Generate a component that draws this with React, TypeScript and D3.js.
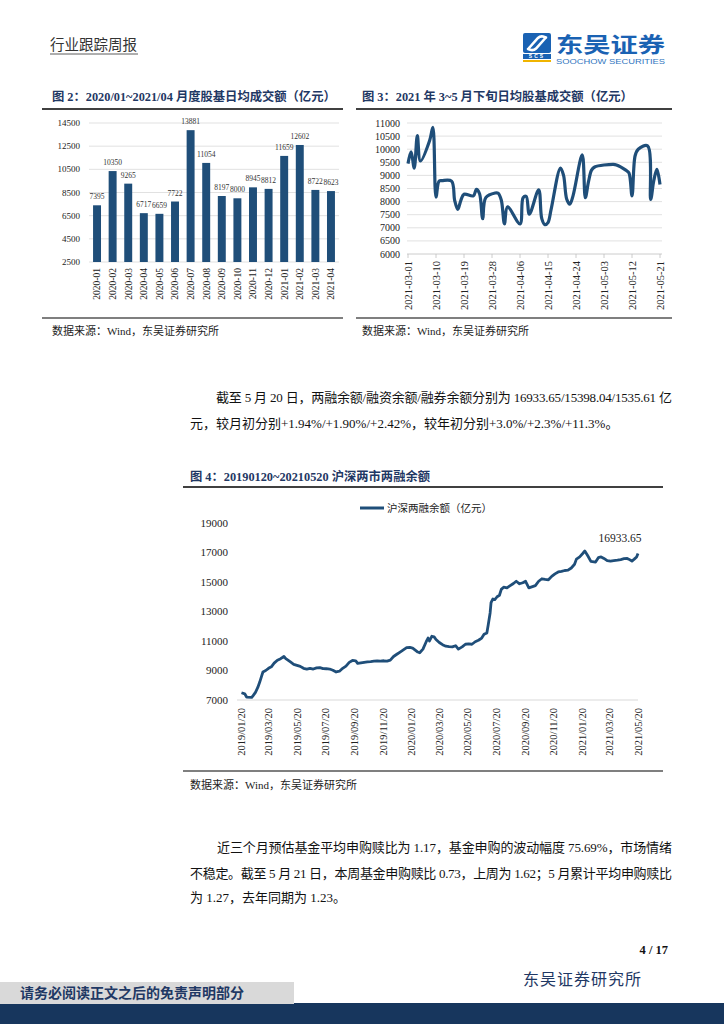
import React from 'react';
import * as d3 from 'd3';

// ---------- Figure 2 data ----------
const monthCats = ['2020-01','2020-02','2020-03','2020-04','2020-05','2020-06','2020-07','2020-08','2020-09','2020-10','2020-11','2020-12','2021-01','2021-02','2021-03','2021-04'];
const monthVals = [7395,10350,9265,6717,6659,7722,13881,11054,8197,8000,8945,8812,11659,12602,8722,8623];
const fig2Ticks = [2500,4500,6500,8500,10500,12500,14500];

// ---------- Figure 3 data ----------
const dailyDates = ['2021-03-01','2021-03-02','2021-03-03','2021-03-04','2021-03-05','2021-03-08','2021-03-09','2021-03-10','2021-03-11','2021-03-12','2021-03-15','2021-03-16','2021-03-17','2021-03-18','2021-03-19','2021-03-22','2021-03-23','2021-03-24','2021-03-25','2021-03-26','2021-03-29','2021-03-30','2021-03-31','2021-04-01','2021-04-02','2021-04-06','2021-04-07','2021-04-08','2021-04-09','2021-04-12','2021-04-13','2021-04-14','2021-04-15','2021-04-16','2021-04-19','2021-04-20','2021-04-21','2021-04-22','2021-04-23','2021-04-26','2021-04-27','2021-04-28','2021-04-29','2021-04-30','2021-05-06','2021-05-07','2021-05-10','2021-05-11','2021-05-12','2021-05-13','2021-05-14','2021-05-17','2021-05-18','2021-05-19','2021-05-20','2021-05-21'];
const dailyVals = [9450,9900,9280,10520,9550,10350,10830,8170,8780,8800,8780,8050,7700,8050,8280,8220,8470,8300,7350,8150,8330,8320,8050,7150,7800,7150,8150,8200,7520,8450,7350,7120,7200,7700,9280,9000,8100,7900,8200,9780,8150,8750,9200,9320,9420,9400,9200,9100,8220,9750,10000,10130,8080,8800,9230,8650];
const fig3Ticks = [6000,6500,7000,7500,8000,8500,9000,9500,10000,10500,11000];
const fig3DateLabels = ['2021-03-01','2021-03-10','2021-03-19','2021-03-28','2021-04-06','2021-04-15','2021-04-24','2021-05-03','2021-05-12','2021-05-21'];

// ---------- Figure 4 data ----------
const marginDates = ['2019-01-21','2019-01-28','2019-02-01','2019-02-12','2019-02-15','2019-02-20','2019-02-25','2019-03-01','2019-03-05','2019-03-08','2019-03-14','2019-03-20','2019-03-26','2019-04-01','2019-04-08','2019-04-15','2019-04-22','2019-04-26','2019-05-06','2019-05-13','2019-05-20','2019-05-27','2019-06-03','2019-06-10','2019-06-17','2019-06-24','2019-07-01','2019-07-08','2019-07-15','2019-07-22','2019-07-29','2019-08-05','2019-08-12','2019-08-19','2019-08-26','2019-09-02','2019-09-09','2019-09-16','2019-09-23','2019-09-27','2019-10-11','2019-10-18','2019-10-25','2019-11-01','2019-11-08','2019-11-15','2019-11-22','2019-11-29','2019-12-06','2019-12-13','2019-12-20','2019-12-27','2020-01-03','2020-01-10','2020-01-17','2020-01-23','2020-02-03','2020-02-07','2020-02-14','2020-02-21','2020-02-25','2020-02-28','2020-03-04','2020-03-09','2020-03-13','2020-03-20','2020-03-27','2020-04-03','2020-04-10','2020-04-17','2020-04-24','2020-04-30','2020-05-08','2020-05-15','2020-05-22','2020-05-29','2020-06-05','2020-06-12','2020-06-19','2020-06-24','2020-06-30','2020-07-03','2020-07-07','2020-07-09','2020-07-13','2020-07-17','2020-07-22','2020-07-27','2020-07-31','2020-08-05','2020-08-12','2020-08-19','2020-08-26','2020-09-01','2020-09-08','2020-09-15','2020-09-21','2020-09-28','2020-10-12','2020-10-19','2020-10-26','2020-11-02','2020-11-09','2020-11-16','2020-11-23','2020-11-30','2020-12-07','2020-12-14','2020-12-21','2020-12-28','2021-01-04','2021-01-08','2021-01-15','2021-01-22','2021-01-26','2021-02-01','2021-02-08','2021-02-18','2021-02-24','2021-03-02','2021-03-08','2021-03-15','2021-03-22','2021-03-29','2021-04-06','2021-04-13','2021-04-20','2021-04-27','2021-04-30','2021-05-07','2021-05-12','2021-05-17','2021-05-20'];
const marginVals = [7490,7420,7200,7180,7300,7520,7850,8200,8600,8900,9000,9150,9250,9500,9700,9800,9950,9800,9580,9420,9350,9280,9150,9100,9150,9100,9180,9200,9130,9120,9100,9020,8900,8950,9150,9300,9550,9680,9650,9480,9550,9580,9600,9630,9650,9640,9660,9630,9700,9950,10100,10250,10400,10550,10560,10520,10250,10200,10450,10950,11200,11000,11320,11280,11100,10900,10750,10650,10620,10600,10680,10450,10600,10780,10800,10780,10950,11050,11200,11450,11550,12100,12900,13600,13850,13800,14000,14100,14500,14650,14600,14750,14900,15050,14880,14950,15050,14600,14750,15050,15220,15180,15150,15380,15550,15680,15720,15780,15800,15950,16200,16550,16700,16950,17100,16800,16400,16350,16650,16700,16600,16450,16420,16450,16480,16520,16580,16600,16550,16420,16550,16700,16933.65];
const fig4Ticks = [7000,9000,11000,13000,15000,17000,19000];
const fig4DateLabels = ['2019/01/20','2019/03/20','2019/05/20','2019/07/20','2019/09/20','2019/11/20','2020/01/20','2020/03/20','2020/05/20','2020/07/20','2020/09/20','2020/11/20','2021/01/20','2021/03/20','2021/05/20'];
const fig4LastLabel = '16933.65';

const SERIF = '"Liberation Serif","Times New Roman","Noto Sans CJK SC",serif';
const NAVY = '#1F3864';
const BAR = '#1F4E79';
const GRID = '#D9D9D9';

function Fig2() {
  const x = d3.scaleBand<string>().domain(monthCats).range([89, 339]).paddingInner(0.49).paddingOuter(0.26);
  const y = d3.scaleLinear().domain([2500, 14500]).range([262, 123]);
  return (
    <g fontFamily={SERIF}>
      {fig2Ticks.map(t => (
        <g key={t}>
          <line x1={89} x2={339} y1={y(t)} y2={y(t)} stroke={GRID} strokeWidth={0.8} />
          <text x={80} y={y(t)} dy="0.35em" textAnchor="end" fontSize={9} fill="#222">{t}</text>
        </g>
      ))}
      {monthCats.map((c, i) => (
        <g key={c}>
          <rect x={x(c)} y={y(monthVals[i])} width={x.bandwidth()} height={y(2500) - y(monthVals[i])} fill={BAR} />
          <text x={(x(c) as number) + x.bandwidth() / 2} y={y(monthVals[i]) - 6} textAnchor="middle" fontSize={7.5} fill="#333">{monthVals[i]}</text>
          <text transform={`translate(${(x(c) as number) + x.bandwidth() / 2},268) rotate(-90)`} dy="0.35em" textAnchor="end" fontSize={9.5} fill="#222">{c}</text>
        </g>
      ))}
    </g>
  );
}

function Fig3() {
  const parse = d3.timeParse('%Y-%m-%d');
  const x = d3.scaleTime().domain([parse('2021-03-01') as Date, parse('2021-05-21') as Date]).range([408, 660]);
  const y = d3.scaleLinear().domain([6000, 11000]).range([254, 123]);
  const pts: [number, number][] = dailyDates.map((d, i) => [x(parse(d) as Date), y(dailyVals[i])]);
  const line = d3.line().curve(d3.curveCatmullRom.alpha(0.5))(pts) as string;
  return (
    <g fontFamily={SERIF}>
      {fig3Ticks.map(t => (
        <g key={t}>
          <line x1={407} x2={662} y1={y(t)} y2={y(t)} stroke={t === 6000 ? '#BFBFBF' : GRID} strokeWidth={0.8} />
          <text x={400} y={y(t)} dy="0.35em" textAnchor="end" fontSize={10} fill="#222">{t}</text>
        </g>
      ))}
      {fig3DateLabels.map(d => {
        const xx = x(parse(d) as Date);
        return (
          <g key={d}>
            <line x1={xx} x2={xx} y1={254} y2={258} stroke="#BFBFBF" strokeWidth={0.8} />
            <text transform={`translate(${xx},261) rotate(-90)`} dy="0.35em" textAnchor="end" fontSize={10.5} fill="#222">{d}</text>
          </g>
        );
      })}
      <path d={line} fill="none" stroke={BAR} strokeWidth={3.2} strokeLinejoin="round" />
    </g>
  );
}

function Fig4() {
  const parse = d3.timeParse('%Y-%m-%d');
  const parse2 = d3.timeParse('%Y/%m/%d');
  const x = d3.scaleTime().domain([parse2('2019/01/20') as Date, parse2('2021/05/20') as Date]).range([241, 638]);
  const y = d3.scaleLinear().domain([7000, 19000]).range([700, 523]);
  const pts: [number, number][] = marginDates.map((d, i) => [x(parse(d) as Date), y(marginVals[i])]);
  const line = d3.line()(pts) as string;
  const last = pts[pts.length - 1];
  return (
    <g fontFamily={SERIF}>
      <line x1={360} x2={384} y1={508} y2={508} stroke={BAR} strokeWidth={3} />
      <text x={387} y={508} dy="0.35em" fontSize={10.5} fill="#222">沪深两融余额（亿元）</text>
      {fig4Ticks.map(t => (
        <text key={t} x={228} y={y(t)} dy="0.35em" textAnchor="end" fontSize={11} fill="#222">{t}</text>
      ))}
      <line x1={237} x2={638} y1={700} y2={700} stroke={GRID} strokeWidth={1} />
      {fig4DateLabels.map(d => {
        const xx = x(parse2(d) as Date);
        return (
          <text key={d} transform={`translate(${xx},708) rotate(-90)`} dy="0.35em" textAnchor="end" fontSize={10.5} fill="#222">{d}</text>
        );
      })}
      <path d={line} fill="none" stroke={BAR} strokeWidth={2.8} strokeLinejoin="round" />
      <text x={last[0] - 18} y={last[1] - 11} textAnchor="middle" fontSize={11.5} fill="#222">{fig4LastLabel}</text>
    </g>
  );
}

export default function App() {
  return (
    <svg width={724} height={1024} style={{ position: 'absolute', left: 0, top: 0, display: 'block', background: '#fff' }} fontFamily={SERIF}>
      {/* Header */}
      <text x={50} y={50} fontSize={14.5} fill="#333">行业跟踪周报</text>
      <line x1={50} x2={138} y1={54} y2={54} stroke="#333" strokeWidth={0.8} />
      <g>
        <rect x={523} y={33} width={28} height={20} rx={2} fill="#1A62B3" />
        <path d="M529,48 L538,38 Q540,36 543,36.5 L546,37.5" fill="none" stroke="#fff" strokeWidth={2.6} strokeLinecap="round" />
        <path d="M545,38.5 L536,48.5 Q534,50.5 531,50 L528,49" fill="none" stroke="#fff" strokeWidth={2.6} strokeLinecap="round" />
        <rect x={523} y={54} width={28} height={5} fill="#1A62B3" />
        <text x={537} y={58.3} textAnchor="middle" fontSize={5} fontWeight="bold" fill="#fff" fontFamily="Arial, sans-serif" letterSpacing={2}>SCS</text>
        <rect x={523} y={60} width={28} height={2} fill="#F0B400" />
        <text x={556} y={52} fontSize={21} fontWeight="bold" fill="#1A62B3" fontFamily='"Noto Sans CJK SC",sans-serif' textLength={109} lengthAdjust="spacingAndGlyphs">东吴证券</text>
        <text x={556} y={64} fontSize={8} fill="#2F75C0" fontFamily='"Liberation Sans",Arial,sans-serif' textLength={109} lengthAdjust="spacingAndGlyphs">SOOCHOW SECURITIES</text>
      </g>

      {/* Figure 2 */}
      <text x={52} y={101} fontSize={12.3} fontWeight="bold" fill={NAVY}>图 2：2020/01~2021/04 月度股基日均成交额（亿元）</text>
      <line x1={42} x2={343} y1={109} y2={109} stroke="#000" strokeWidth={1.5} />
      <Fig2 />
      <line x1={42} x2={343} y1={318} y2={318} stroke="#000" strokeWidth={1.2} />
      <text x={52} y={335} fontSize={11} fill="#222">数据来源：Wind，东吴证券研究所</text>

      {/* Figure 3 */}
      <text x={362} y={101} fontSize={12.3} fontWeight="bold" fill={NAVY}>图 3：2021 年 3~5 月下旬日均股基成交额（亿元）</text>
      <line x1={356} x2={672} y1={109} y2={109} stroke="#000" strokeWidth={1.5} />
      <Fig3 />
      <line x1={356} x2={672} y1={318} y2={318} stroke="#000" strokeWidth={1.2} />
      <text x={362} y={335} fontSize={11} fill="#222">数据来源：Wind，东吴证券研究所</text>

      {/* Paragraph 1 */}
      <text x={216} y={402} fontSize={13} fill="#111" textLength={456} lengthAdjust="spacing">截至 5 月 20 日，两融余额/融资余额/融券余额分别为 16933.65/15398.04/1535.61 亿</text>
      <text x={190} y={428} fontSize={13} fill="#111">元，较月初分别+1.94%/+1.90%/+2.42%，较年初分别+3.0%/+2.3%/+11.3%。</text>

      {/* Figure 4 */}
      <text x={190} y={481} fontSize={12.3} fontWeight="bold" fill={NAVY}>图 4：20190120~20210520 沪深两市两融余额</text>
      <line x1={183} x2={663} y1={487} y2={487} stroke="#000" strokeWidth={1.5} />
      <Fig4 />
      <line x1={183} x2={663} y1={771} y2={771} stroke="#000" strokeWidth={1.2} />
      <text x={190} y={789} fontSize={11} fill="#222">数据来源：Wind，东吴证券研究所</text>

      {/* Paragraph 2 */}
      <text x={217} y={852} fontSize={13} fill="#111" textLength={455} lengthAdjust="spacing">近三个月预估基金平均申购赎比为 1.17，基金申购的波动幅度 75.69%，市场情绪</text>
      <text x={190} y={878} fontSize={13} fill="#111" textLength={482} lengthAdjust="spacing">不稳定。截至 5 月 21 日，本周基金申购赎比 0.73，上周为 1.62；5 月累计平均申购赎比</text>
      <text x={190} y={902} fontSize={13} fill="#111">为 1.27，去年同期为 1.23。</text>

      {/* Footer */}
      <text x={668} y={954} textAnchor="end" fontSize={12.5} fontWeight="bold" fill="#111">4 / 17</text>
      <text x={523} y={985} fontSize={16} fill={NAVY} letterSpacing={1}>东吴证券研究所</text>
      <rect x={0} y={1003} width={724} height={21} fill="#17365D" />
      <rect x={0} y={982} width={294} height={22} fill="#D9D9D9" />
      <text x={20} y={998} fontSize={14} fontWeight="bold" fill={NAVY}>请务必阅读正文之后的免责声明部分</text>
    </svg>
  );
}
